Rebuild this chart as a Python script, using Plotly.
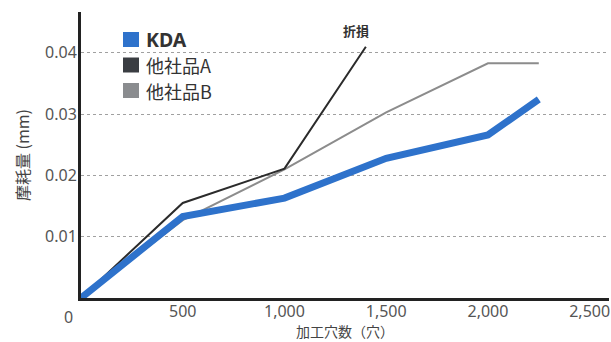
import plotly.graph_objects as go

# ---- data ----
holes_kda = [0, 500, 1000, 1500, 2000, 2250]
wear_kda = [0.0, 0.0133, 0.0163, 0.0228, 0.0266, 0.0324]

holes_a = [0, 500, 1000, 1400]
wear_a = [0.0, 0.0155, 0.0211, 0.0410]

holes_b = [0, 500, 1000, 1500, 2000, 2250]
wear_b = [0.0, 0.0127, 0.0210, 0.0303, 0.0383, 0.0383]

series_names = ["<b>KDA</b>", "他社品A", "他社品B"]
series_colors = ["#2e72cb", "#2b2b2b", "#8c8c8c"]
swatch_colors = ["#2e72cb", "#3a3d42", "#8a8c8f"]

x_ticks = [500, 1000, 1500, 2000, 2500]
x_tick_text = ["500", "1,000", "1,500", "2,000", "2,500"]
y_ticks = [0.01, 0.02, 0.03, 0.04]
y_tick_text = ["0.01", "0.02", "0.03", "0.04"]

FONT = "Noto Sans, Noto Sans CJK JP, sans-serif"
CJK = "Noto Sans CJK JP, sans-serif"

W, H = 611, 342
ML, MR, MT, MB = 81, 2, 12, 44
PW, PH = W - ML - MR, H - MT - MB


def px_x(px):
    return (px - ML) / PW


def px_y(py):
    return (H - MB - py) / PH


fig = go.Figure()

fig.add_trace(go.Scatter(x=holes_b, y=wear_b, mode="lines",
                         line=dict(color=series_colors[2], width=2),
                         showlegend=False, hoverinfo="skip"))
fig.add_trace(go.Scatter(x=holes_a, y=wear_a, mode="lines",
                         line=dict(color=series_colors[1], width=2),
                         showlegend=False, hoverinfo="skip"))
fig.add_trace(go.Scatter(x=holes_kda, y=wear_kda, mode="lines",
                         line=dict(color=series_colors[0], width=7),
                         showlegend=False, hoverinfo="skip"))

# legend background (breaks the 0.04 gridline like the reference)
fig.add_shape(type="rect", xref="paper", yref="paper",
              x0=px_x(106), x1=px_x(235), y0=px_y(102), y1=px_y(28),
              fillcolor="white", line=dict(width=0), layer="below")

# manual legend: square swatches + labels
legend_rows_y = [39.5, 65, 90.5]
legend_fonts = [("Noto Sans, sans-serif", 19.5), (CJK, 18), (CJK, 18)]
for name, col, cy, (fam, fs) in zip(series_names, swatch_colors, legend_rows_y, legend_fonts):
    fig.add_shape(type="rect", xref="paper", yref="paper",
                  x0=px_x(123), x1=px_x(139), y0=px_y(cy + 7.5), y1=px_y(cy - 7.5),
                  fillcolor=col, line=dict(width=0))
    fig.add_annotation(x=px_x(145), y=px_y(cy), xref="paper", yref="paper",
                       text=name, showarrow=False, xanchor="left", yanchor="middle",
                       borderpad=0, font=dict(family=fam, size=fs, color="#333"))

fig.add_annotation(x=holes_a[-1], y=wear_a[-1], xref="x", yref="y",
                   text="<b>折損</b>", showarrow=False, xanchor="center",
                   yanchor="bottom", xshift=-10, yshift=5,
                   font=dict(family=CJK, size=13, color="#333"))

# "0" label of the x axis, placed left of origin as in the reference
fig.add_annotation(x=0, y=0, xref="x", yref="y", text="0", showarrow=False,
                   xanchor="center", yanchor="top", xshift=-13, yshift=-6,
                   font=dict(family=FONT, size=16, color="#555"))

# x-axis title
fig.add_annotation(x=0.5, y=px_y(342), xref="paper", yref="paper",
                   text="加工穴数（穴）", showarrow=False, xanchor="center",
                   yanchor="bottom", borderpad=0,
                   font=dict(family=CJK, size=14, color="#444"))

fig.update_layout(
    width=W, height=H,
    margin=dict(l=ML, r=MR, t=MT, b=MB),
    paper_bgcolor="white", plot_bgcolor="white",
    font=dict(family=FONT, size=16, color="#555"),
    showlegend=False,
)

fig.update_xaxes(range=[0, 2595], tickmode="array", tickvals=x_ticks,
                 ticktext=x_tick_text, showgrid=False, zeroline=False,
                 showline=True, linecolor="#222", linewidth=3, ticks="",
                 ticklabelstandoff=-3,
                 tickfont=dict(family=FONT, size=16, color="#555"))
fig.update_yaxes(range=[0, 0.04666], tickmode="array", tickvals=y_ticks,
                 ticktext=y_tick_text, showgrid=True, gridcolor="#a0a0a0",
                 griddash="dot", gridwidth=1.2, zeroline=False,
                 showline=True, linecolor="#222", linewidth=3, ticks="",
                 ticklabelstandoff=-2,
                 tickfont=dict(family=FONT, size=16, color="#555"),
                 title=dict(text="摩耗量 (mm)", standoff=12,
                            font=dict(family=CJK, size=16, color="#444")))

fig.write_html("out.html")
